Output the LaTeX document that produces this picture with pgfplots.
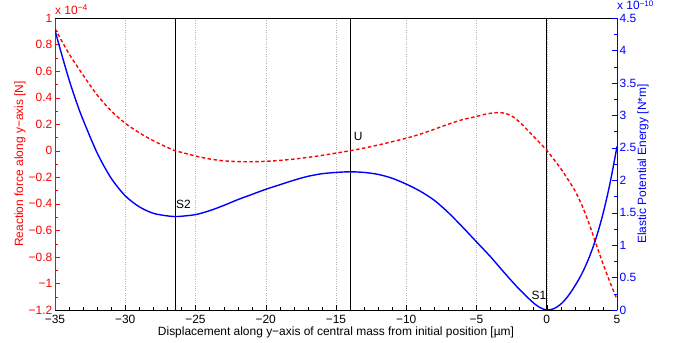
\documentclass[border=0pt]{standalone}
\usepackage{pgfplots}
\pgfplotsset{compat=1.18}
\usepackage{pgfplotstable}
\usepackage{fontspec}
\setmainfont{Liberation Sans}

\pgfplotstableread{
x F
-35 0.92
-34 0.73
-33 0.57
-32 0.42
-31 0.30
-30 0.207
-29 0.135
-28 0.075
-27 0.025
-26.46 0
-26 -0.012
-25 -0.040
-24 -0.062
-23 -0.076
-22 -0.082
-21 -0.083
-20 -0.080
-19 -0.073
-18 -0.063
-17 -0.050
-16 -0.035
-15 -0.018
-14 0.0
-13 0.020
-12 0.043
-11 0.068
-10 0.094
-9 0.125
-8 0.162
-7 0.200
-6 0.234
-5 0.258
-4.5 0.272
-4 0.282
-3.5 0.287
-3 0.283
-2.5 0.262
-2 0.222
-1.5 0.170
-1 0.115
-0.5 0.060
0 0.003
0.5 -0.065
1 -0.135
1.5 -0.215
2 -0.300
2.5 -0.410
3 -0.545
3.5 -0.700
4 -0.850
4.5 -0.990
5 -1.120
}\forcetab

\pgfplotstableread{
x E
-35 4.31
-34.5 3.92
-34 3.55
-33.5 3.22
-33 2.93
-32 2.42
-31 2.03
-30 1.76
-29 1.59
-28 1.49
-27 1.45
-26.46 1.44
-26 1.445
-25 1.47
-24 1.53
-23 1.61
-22 1.70
-21 1.78
-20 1.86
-19 1.93
-18 2.00
-17 2.06
-16 2.10
-15 2.12
-14 2.13
-13 2.12
-12 2.09
-11 2.03
-10 1.94
-9 1.83
-8 1.69
-7 1.50
-6 1.28
-5 1.05
-4 0.82
-3 0.57
-2 0.33
-1 0.12
-0.5 0.04
0 0
0.5 0.02
1 0.09
1.5 0.21
2 0.37
2.5 0.56
3 0.80
3.5 1.10
4 1.48
4.5 1.95
5 2.52
}\energytab

\definecolor{mred}{RGB}{255,0,0}
\definecolor{mblue}{RGB}{0,0,255}

\pgfplotsset{
  mystyle/.style={
    at={(55bp,33bp)}, anchor=south west, scale only axis,
    width=562bp, height=292bp,
    xmin=-35, xmax=5,
    font=\fontsize{12}{14}\selectfont,
    tick label style={font=\fontsize{12}{14}\selectfont},
    label style={font=\fontsize{12}{14}\selectfont},
    tick align=inside,
    major tick length=5bp, minor tick length=3bp,
    scaled ticks=false,
  }
}

\begin{document}
\begin{tikzpicture}
\useasboundingbox (0,0) rectangle (675bp,343bp);
\begin{axis}[mystyle,
  ymin=-1.2, ymax=1,
  axis x line*=bottom, axis y line*=left,
  x axis line style={black, line width=0.6pt},
  y axis line style={mred, line width=0.6pt},
  xtick={-35,-30,...,5},
  xticklabels={−35,−30,−25,−20,−15,−10,−5,0,5},
  minor x tick num=4,
  ytick={-1.2,-1,-0.8,-0.6,-0.4,-0.2,0,0.2,0.4,0.6,0.8,1},
  yticklabels={−1.2,−1,−0.8,−0.6,−0.4,−0.2,0,0.2,0.4,0.6,0.8,1},
  minor y tick num=1,
  xtick style={black},
  ytick style={mred},
  yticklabel style={mred, inner sep=0pt, xshift=-2.5bp},
  xticklabel style={inner sep=0pt, yshift=-5bp},
  xmajorgrids,
  major x grid style={gray!60, dotted, line width=0.5pt},
  xlabel={Displacement along y−axis of central mass from initial position [µm]},
  ylabel={Reaction force along y−axis [N]},
  ylabel style={mred, at={(axis description cs:-0.0623,0.5)}, anchor=center},
  xlabel style={at={(axis description cs:0.5,0)}, anchor=north, yshift=-16.5bp, inner sep=0pt},
]
\draw[black, line width=0.6pt] (rel axis cs:0,1) -- (rel axis cs:1,1);
\addplot[black, line width=0.7pt] coordinates {(0,-1.2) (0,1)};
\addplot[black, line width=0.7pt] coordinates {(-14,-1.2) (-14,1)};
\addplot[black, line width=0.7pt] coordinates {(-26.46,-1.2) (-26.46,1)};
\addplot[mred, line width=1.4pt, dash pattern=on 3.5pt off 2.5pt, smooth, tension=0.5] table[x=x,y=F] {\forcetab};
\node[anchor=center] at (axis cs:-25.85,-0.405) {S2};
\node[anchor=center] at (axis cs:-13.42,0.111) {U};
\node[anchor=center] at (axis cs:-0.56,-1.09) {S1};
\end{axis}
\begin{axis}[mystyle,
  ymin=0, ymax=4.5,
  axis x line=none, axis y line*=right,
  y axis line style={mblue, line width=0.6pt},
  ytick={0,0.5,...,4.5},
  yticklabels={0,0.5,1,1.5,2,2.5,3,3.5,4,4.5},
  minor y tick num=1,
  ytick style={mblue},
  yticklabel style={mblue, inner sep=0pt, xshift=2.5bp},
  ylabel={Elastic Potential Energy [N*m]},
  ylabel style={mblue, at={(axis description cs:1.0463,0.5)}, anchor=center},
]
\addplot[mblue, line width=1.4pt, smooth, tension=0.5] table[x=x,y=E] {\energytab};
\end{axis}
\node[anchor=base west, mred, font=\fontsize{12}{14}\selectfont, inner sep=0pt] at (55bp,328bp) {x 10\raisebox{4.5bp}{\fontsize{8.5}{9}\selectfont −4}};
\node[anchor=base west, mblue, font=\fontsize{12}{14}\selectfont, inner sep=0pt] at (617bp,333bp) {x 10\raisebox{3.5bp}{\fontsize{8}{9}\selectfont −10}};
\end{tikzpicture}
\end{document}
